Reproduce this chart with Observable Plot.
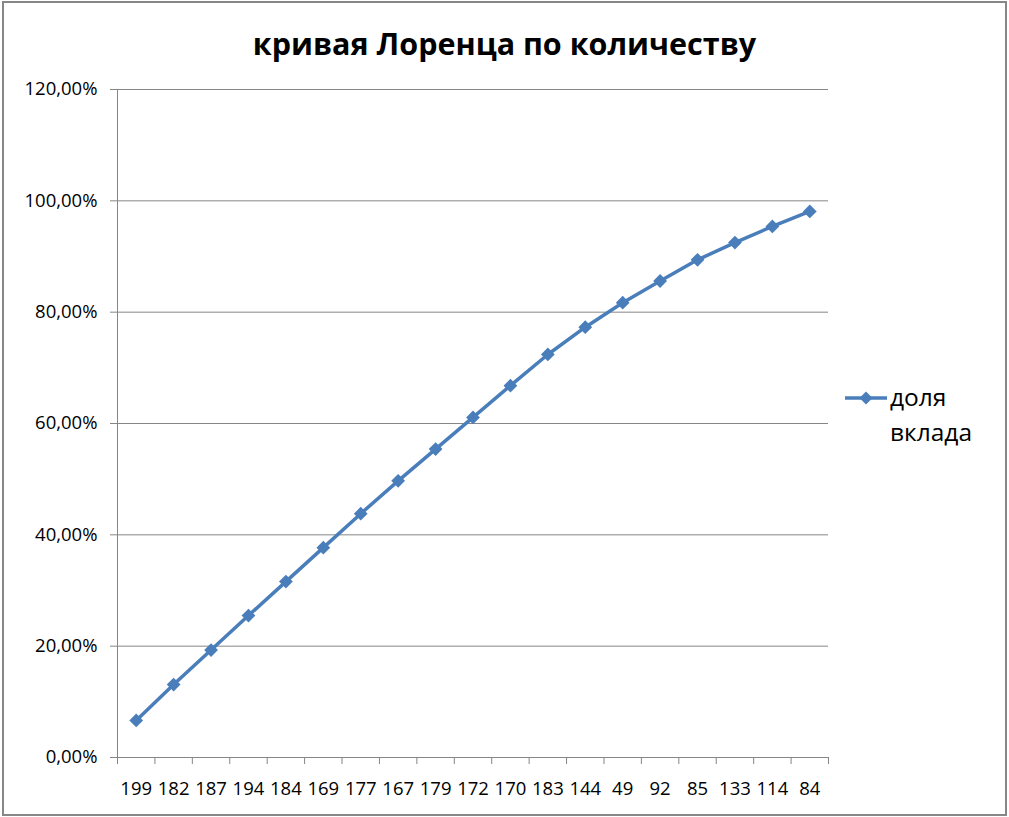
<!DOCTYPE html>
<html>
<head>
<meta charset="utf-8">
<script src="https://cdn.jsdelivr.net/npm/d3@7"></script>
<script src="https://cdn.jsdelivr.net/npm/@observablehq/plot@0.6"></script>
<style>
  html, body { margin: 0; padding: 0; background: #fff; }
  #wrap { position: relative; width: 1009px; height: 817px; overflow: hidden; font-family: "Open Sans", sans-serif; }
  #frame { position: absolute; left: 2px; top: 1px; width: 1005px; height: 815px; box-sizing: border-box; border: 2px solid #878787; pointer-events: none; }
  #title { position: absolute; left: 0; width: 1009px; top: 22px; text-align: center; font-size: 30.5px; font-weight: bold; line-height: 42px; color: #000; }
  #chart { position: absolute; left: 0; top: 0; }
  #legend { position: absolute; left: 843px; top: 382px; }
  #legend .txt { position: absolute; left: 47px; top: 0; font-size: 24.5px; line-height: 35px; color: #000; white-space: nowrap; }
</style>
</head>
<body>
<div id="wrap">
  <div id="chart"></div>
  <div id="title"></div>
  <div id="legend"></div>
  <div id="frame"></div>
</div>
<script>
const titleText = "кривая Лоренца по количеству";
const seriesName = "доля вклада";
const categories = ["199","182","187","194","184","169","177","167","179","172","170","183","144","49","92","85","133","114","84"];
const shares = [0.0665, 0.131, 0.193, 0.255, 0.316, 0.377, 0.438, 0.497, 0.554, 0.611, 0.668, 0.724, 0.773, 0.817, 0.856, 0.894, 0.925, 0.954, 0.981];
const yTicks = [0, 0.2, 0.4, 0.6, 0.8, 1.0, 1.2];

const color = "#4a7ebb";
const grid = "#868686";

const data = categories.map((c, i) => ({cat: c, idx: i + 0.5, share: shares[i]}));
const fmt = d => (d * 100).toFixed(2).replace(".", ",") + "%";

const chart = Plot.plot({
  width: 1009,
  height: 817,
  marginLeft: 117,
  marginRight: 181,
  marginTop: 89,
  marginBottom: 60,
  style: {fontFamily: "Open Sans, sans-serif", fontSize: "18px", color: "#000", background: "transparent"},
  x: {type: "linear", domain: [0, categories.length], axis: null},
  y: {domain: [0, 1.2], axis: null},
  marks: [
    Plot.gridY(yTicks.slice(1), {stroke: grid, strokeOpacity: 1, strokeWidth: 1}),
    Plot.ruleY([0], {stroke: grid, strokeWidth: 1}),
    Plot.ruleX([0], {stroke: grid, strokeWidth: 1}),
    Plot.axisY(yTicks, {label: null, tickFormat: fmt, tickSize: 7, tickPadding: 13, stroke: grid, fill: "#000", fontSize: 18.5}),
    Plot.axisX(d3.range(categories.length + 1), {label: null, tickSize: 7, tickFormat: () => "", stroke: grid}),
    Plot.axisX(data.map(d => d.idx), {label: null, tickSize: 0, tickPadding: 24, tickFormat: (d, i) => categories[i], fill: "#000", fontSize: 18.5}),
    Plot.line(data, {x: "idx", y: "share", stroke: color, strokeWidth: 3.5}),
    Plot.dot(data, {x: "idx", y: "share", symbol: "diamond2", r: 6.2, fill: color, stroke: null})
  ]
});
document.getElementById("chart").appendChild(chart);
document.getElementById("title").textContent = titleText;

// legend
const lg = document.getElementById("legend");
const sw = d3.create("svg").attr("width", 46).attr("height", 34);
sw.append("line").attr("x1", 2).attr("x2", 44).attr("y1", 16).attr("y2", 16).attr("stroke", color).attr("stroke-width", 3.5);
sw.append("path").attr("d", d3.symbol(d3.symbolDiamond2, 108)()).attr("transform", "translate(23,16)").attr("fill", color);
lg.appendChild(sw.node());
const words = seriesName.split(" ");
const t = document.createElement("div");
t.className = "txt";
t.style.top = "-3px";
t.innerHTML = words.join("<br>");
lg.appendChild(t);
</script>
</body>
</html>
